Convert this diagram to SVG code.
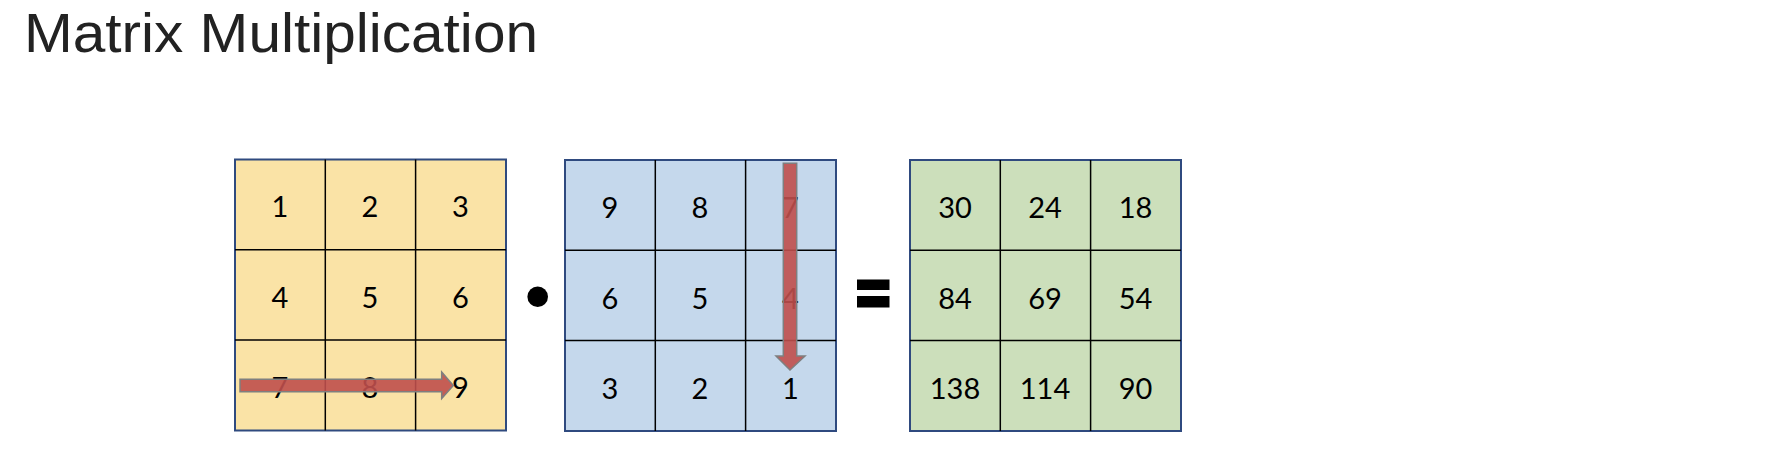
<svg xmlns="http://www.w3.org/2000/svg" width="1778" height="450" viewBox="0 0 1778 450">
<style>
.title{font-family:"Liberation Sans",Arial,sans-serif;font-size:55px;fill:#222}
.num{font-family:Lato,"Open Sans",sans-serif;font-size:29px;fill:#000;text-anchor:middle}
.outer{stroke:#2F4A7F;stroke-width:2}
.grid{stroke:#000;stroke-width:1.5;fill:none}
.arr{fill:#BF4F4C;fill-opacity:0.9;stroke:#7F7F7F;stroke-width:1.5}
</style>
<rect width="1778" height="450" fill="#fff"/>
<text class="title" x="24" y="52" textLength="514" lengthAdjust="spacingAndGlyphs">Matrix Multiplication</text>

<g id="matrixA">
<rect class="outer" x="235" y="159.5" width="271" height="271" fill="#FAE3A6"/>
<path class="grid" d="M325.3 159.5V430.5M415.6 159.5V430.5M235 249.8H506M235 340.1H506"/>
<text class="num" x="280" y="217">1</text><text class="num" x="370" y="217">2</text><text class="num" x="460.5" y="217">3</text>
<text class="num" x="280" y="307.5">4</text><text class="num" x="370" y="307.5">5</text><text class="num" x="460.5" y="307.5">6</text>
<text class="num" x="280" y="397.5">7</text><text class="num" x="370" y="397.5">8</text><text class="num" x="460.5" y="397.5">9</text>
</g>

<g id="dotOp"><circle cx="537.7" cy="296.7" r="10.3" fill="#000"/></g>

<g id="matrixB">
<rect class="outer" x="565" y="160" width="271" height="271" fill="#C5D8EC"/>
<path class="grid" d="M655.3 160V431M745.6 160V431M565 250.3H836M565 340.6H836"/>
<text class="num" x="610" y="218">9</text><text class="num" x="700" y="218">8</text><text class="num" x="790.5" y="218">7</text>
<text class="num" x="610" y="308.5">6</text><text class="num" x="700" y="308.5">5</text><text class="num" x="790.5" y="308.5">4</text>
<text class="num" x="610" y="399">3</text><text class="num" x="700" y="399">2</text><text class="num" x="790.5" y="399">1</text>
</g>

<g id="equalsOp">
<rect x="857" y="279.5" width="32.5" height="10.5" fill="#000"/>
<rect x="857" y="296" width="32.5" height="11.5" fill="#000"/>
</g>

<g id="matrixC">
<rect class="outer" x="910" y="160" width="271" height="271" fill="#CCDFBB"/>
<path class="grid" d="M1000.3 160V431M1090.6 160V431M910 250.3H1181M910 340.6H1181"/>
<text class="num" x="955" y="218">30</text><text class="num" x="1045" y="218">24</text><text class="num" x="1135.5" y="218">18</text>
<text class="num" x="955" y="308.5">84</text><text class="num" x="1045" y="308.5">69</text><text class="num" x="1135.5" y="308.5">54</text>
<text class="num" x="955" y="398.5">138</text><text class="num" x="1045" y="398.5">114</text><text class="num" x="1135.5" y="398.5">90</text>
</g>

<g id="connectors">
<path class="arr" d="M240 379.3H441.7V372L453.3 385.5L441.7 398.5V391.7H240Z"/>
<path class="arr" d="M783.3 163.3H796.7V356H805L790 370L776 356H783.3Z"/>
</g>
</svg>
